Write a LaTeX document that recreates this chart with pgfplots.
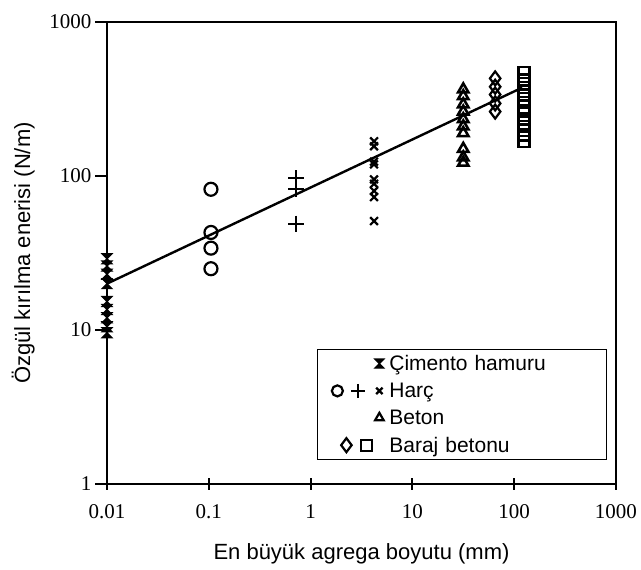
\documentclass[border=0pt]{standalone}
\usepackage{fontspec}
\setmainfont{Liberation Sans}
\newfontfamily\numfont{Liberation Serif}
\usepackage{pgfplots}
\pgfplotsset{compat=1.18}

% hourglass cross used for the cement paste points
\pgfdeclareplotmark{cim}{%
  \pgfpathmoveto{\pgfqpoint{-\pgfplotmarksize}{\pgfplotmarksize}}%
  \pgfpathlineto{\pgfqpoint{\pgfplotmarksize}{\pgfplotmarksize}}%
  \pgfpathlineto{\pgfqpoint{-\pgfplotmarksize}{-\pgfplotmarksize}}%
  \pgfpathlineto{\pgfqpoint{\pgfplotmarksize}{-\pgfplotmarksize}}%
  \pgfpathclose
  \pgfusepathqfillstroke}

\begin{document}
\begin{tikzpicture}
\begin{axis}[
  scale only axis,
  width=509pt, height=462pt,
  xmode=log, ymode=log,
  xmin=0.01, xmax=1000, ymin=1, ymax=1000,
  xtick={0.01,0.1,1,10,100,1000},
  xticklabels={0.01,0.1,1,10,100,1000},
  ytick={1,10,100,1000},
  yticklabels={1,10,100,1000},
  xminorticks=false, yminorticks=false,
  xtick pos=bottom, ytick pos=left,
  major tick length=12pt,
  xtick align=center, ytick align=outside,
  tick style={line width=2pt, black},
  axis line style={line width=2.2pt},
  tick label style={font=\numfont\fontsize{21}{24}\selectfont},
  xticklabel shift=11pt,
  label style={font=\fontsize{22}{26}\selectfont},
  xlabel={En büyük agrega boyutu (mm)},
  ylabel={Özgül kırılma enerisi (N/m)},
  xlabel shift=18pt,
  ylabel shift=8pt,
  legend style={at={(rel axis cs:0.982,0.052)}, anchor=south east,
    draw=black, line width=0.9pt, font=\fontsize{21}{25}\selectfont,
    legend cell align=left, row sep=7pt, inner sep=4pt,
    nodes={text width=211pt, align=left}},
]

% regression line
\addplot[black, line width=2.4pt, forget plot] coordinates {(0.01,20) (120,375)};

% Cimento hamuru
\addplot[black, only marks, mark=cim, mark size=5pt, mark options={fill=black, line width=1.2pt}, forget plot] coordinates {
  (0.01,29) (0.01,26) (0.01,23) (0.01,20) (0.01,15.3)
  (0.01,13.6) (0.01,12) (0.01,10.5) (0.01,9.6)
};
% Harc: circles
\addplot[black, only marks, mark=o, mark size=6.5pt, mark options={line width=2.2pt}, forget plot] coordinates {
  (0.105,82) (0.105,43) (0.105,34) (0.105,25)
};
% Harc: plus
\addplot[black, only marks, mark=+, mark size=8pt, mark options={line width=2.2pt}, forget plot] coordinates {
  (0.72,97) (0.72,82) (0.72,49)
};
% Harc: cross
\addplot[black, only marks, mark=x, mark size=5.5pt, mark options={line width=2.2pt}, forget plot] coordinates {
  (4.2,168) (4.2,156) (4.2,124) (4.2,119) (4.2,95)
  (4.2,89) (4.2,80) (4.2,73) (4.2,51)
};
% Beton
\addplot[black, only marks, mark=triangle, mark size=6pt, mark options={line width=2.6pt}, forget plot] coordinates {
  (31.6,365) (31.6,330) (31.6,292) (31.6,262) (31.6,234)
  (31.6,210) (31.6,190) (31.6,150) (31.6,132) (31.6,122)
};
% Baraj betonu: diamonds
\addplot[black, only marks, mark=diamond, mark size=7pt, mark options={line width=2.2pt}, forget plot] coordinates {
  (65,430) (65,380) (65,338) (65,296) (65,262)
};
% Baraj betonu: squares
\addplot[black, only marks, mark=square, mark size=5.5pt, mark options={line width=2.4pt}, forget plot] coordinates {
  (125,470) (125,420) (125,375) (125,335) (125,300)
  (125,265) (125,235) (125,210) (125,185) (125,168)
};

% legend entries with several symbols each
\addlegendimage{legend image code/.code={
  \path[draw=none, fill=none] (0pt,-7pt) rectangle (66pt,7pt);
  \draw[black, line width=1.2pt, fill=black] plot[mark=cim, mark size=4.5pt] coordinates {(58pt,0pt)};}}
\addlegendentry{Çimento hamuru}
\addlegendimage{legend image code/.code={
  \path[draw=none, fill=none] (0pt,-7pt) rectangle (66pt,7pt);
  \draw[black, line width=2.2pt] plot[mark=o, mark size=5.5pt] coordinates {(16pt,0pt)};
  \draw[black, line width=2.2pt] plot[mark=+, mark size=7pt] coordinates {(37pt,0pt)};
  \draw[black, line width=2.2pt] plot[mark=x, mark size=4.5pt] coordinates {(58pt,0pt)};}}
\addlegendentry{Harç}
\addlegendimage{legend image code/.code={
  \path[draw=none, fill=none] (0pt,-7pt) rectangle (66pt,7pt);
  \draw[black, line width=2.2pt] plot[mark=triangle, mark size=5pt] coordinates {(58pt,0pt)};}}
\addlegendentry{Beton}
\addlegendimage{legend image code/.code={
  \path[draw=none, fill=none] (0pt,-7pt) rectangle (66pt,7pt);
  \draw[black, line width=2.2pt] plot[mark=diamond, mark size=7pt] coordinates {(25pt,0pt)};
  \draw[black, line width=2.2pt] plot[mark=square, mark size=5.5pt] coordinates {(45pt,0pt)};}}
\addlegendentry{Baraj betonu}

\end{axis}
% page margins as in the reference
\path (current axis.south west) ++(-107pt,-86pt);
\path (current axis.north east) ++(25pt,22pt);
\end{tikzpicture}
\end{document}
